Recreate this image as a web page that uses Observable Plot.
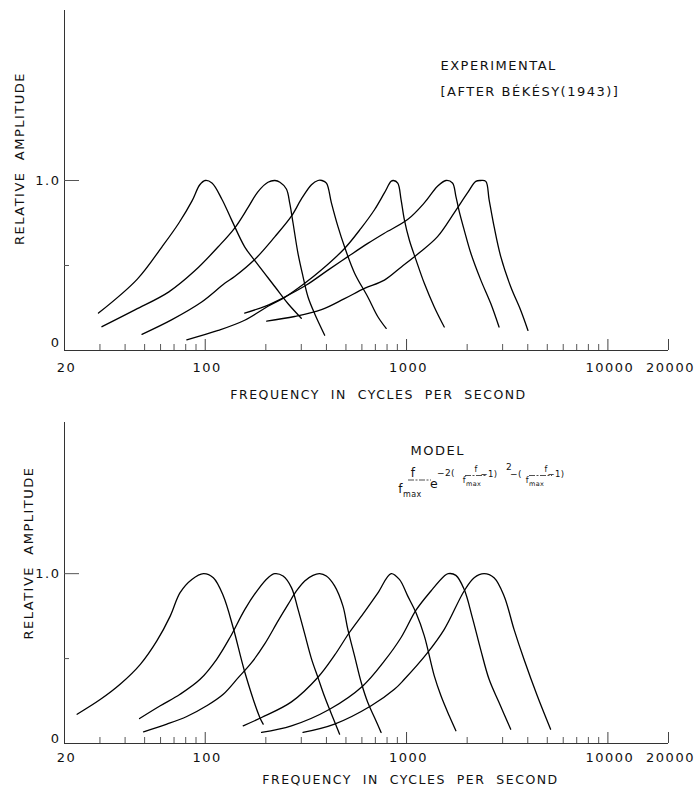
<!DOCTYPE html>
<html><head><meta charset="utf-8">
<script src="https://cdn.jsdelivr.net/npm/d3@7"></script>
<script src="https://cdn.jsdelivr.net/npm/@observablehq/plot@0.6"></script>
<style>
body{margin:0;background:#fff;}
#chart{width:695px;}
#chart svg{display:block;}
</style></head><body><div id="chart"></div>
<script>
// ---- Experimental curves [frequency Hz, relative amplitude] ----
const exp100 = [[29.5,0.22],[46,0.42],[61,0.61],[74,0.75],[86,0.88],[94,0.975],[100,1.0],[108,0.985],[121,0.89],[135,0.77],[157,0.61],[176,0.53],[222,0.375],[258,0.275],[300,0.19]];
const exp225 = [[30.7,0.14],[45,0.24],[66,0.345],[89,0.47],[116,0.61],[140,0.72],[163,0.84],[183,0.935],[205,0.99],[222,1.0],[235,0.99],[253,0.95],[263,0.865],[273,0.75],[289,0.57],[306,0.435],[324,0.315],[350,0.215],[392,0.09]];
const exp375 = [[48.5,0.095],[68,0.18],[96,0.285],[125,0.395],[140,0.435],[176,0.535],[222,0.67],[268,0.79],[300,0.89],[337,0.975],[363,1.0],[380,1.0],[400,0.985],[423,0.87],[456,0.73],[492,0.61],[552,0.455],[642,0.315],[719,0.2],[792,0.13]];
const exp850 = [[81,0.063],[116,0.118],[157,0.178],[205,0.26],[248,0.312],[312,0.395],[377,0.473],[492,0.6],[595,0.72],[693,0.828],[776,0.927],[838,0.995],[860,1.0],[904,0.985],[939,0.888],[975,0.77],[1032,0.65],[1114,0.533],[1225,0.395],[1373,0.256],[1539,0.138]];
const exp1600 = [[157,0.22],[198,0.26],[244,0.31],[318,0.385],[407,0.473],[511,0.552],[642,0.63],[776,0.69],[1012,0.77],[1225,0.868],[1425,0.966],[1569,1.0],[1691,0.985],[1758,0.907],[1826,0.818],[1932,0.71],[2086,0.572],[2338,0.414],[2620,0.276],[2880,0.138]];
const exp2400 = [[202,0.173],[278,0.2],[378,0.24],[492,0.305],[618,0.365],[776,0.414],[939,0.49],[1157,0.575],[1425,0.67],[1724,0.81],[2007,0.927],[2208,0.995],[2338,1.0],[2475,0.995],[2570,0.888],[2720,0.73],[2937,0.552],[3291,0.375],[3688,0.237],[4009,0.118]];

// ---- Model curves [frequency Hz, relative amplitude] ----
const mod100 = [[23.1,0.172],[30.2,0.26],[37.9,0.35],[47.6,0.466],[57.5,0.604],[67,0.75],[75,0.888],[85.8,0.966],[98,1.0],[109.7,0.976],[122.9,0.87],[137.8,0.68],[157.4,0.418],[186.7,0.153],[194,0.114]];
const mod220 = [[47.2,0.147],[59.8,0.222],[75,0.29],[94.3,0.378],[114,0.496],[132.7,0.624],[157.4,0.79],[183.2,0.908],[205.3,0.976],[221.6,1.0],[243.6,0.986],[268.1,0.918],[289.1,0.79],[312,0.645],[336.8,0.5],[363.1,0.388],[391.9,0.275],[423,0.175],[465,0.055]];
const mod370 = [[49.4,0.069],[64.5,0.114],[81,0.159],[101.7,0.222],[122.9,0.29],[145.9,0.388],[169.9,0.476],[197.8,0.588],[230.1,0.722],[257.9,0.819],[283.8,0.898],[312,0.957],[343,0.99],[370,1.0],[399.5,0.986],[439.1,0.928],[482.8,0.81],[510.9,0.672],[551.6,0.516],[595.5,0.359],[641.9,0.241],[693,0.153],[747.5,0.065]];
const mod840 = [[154.4,0.104],[190.5,0.153],[268.1,0.245],[363.1,0.39],[439.1,0.52],[521,0.655],[618.3,0.775],[719.3,0.885],[838,1.0],[921.3,0.966],[1012.6,0.869],[1114,0.77],[1225,0.634],[1373,0.398],[1482,0.281],[1629,0.163],[1758,0.075]];
const mod1600 = [[190.5,0.065],[268.1,0.104],[414.9,0.202],[606.5,0.339],[776.4,0.486],[939.2,0.624],[1114,0.785],[1322,0.898],[1539,0.986],[1610,1.0],[1758,0.99],[1932,0.908],[2124,0.74],[2338,0.55],[2570,0.378],[2880,0.241],[3291,0.084]];
const mod2430 = [[306,0.065],[439.1,0.114],[667.1,0.222],[870.2,0.319],[975.2,0.378],[1272,0.535],[1539,0.672],[1932,0.898],[2166,0.976],[2427,1.0],[2720,0.976],[3050,0.869],[3418,0.672],[3830,0.496],[4458,0.281],[5193,0.084]];

// ---- Axis ticks and labels ----
const minorTicks = [30,40,50,60,70,80,90,200,300,400,500,600,700,800,900,2000,3000,4000,5000,6000,7000,8000,9000];
const majorTicks = [100,1000,10000,20000];
const xTickLabels = [20,100,1000,10000,20000];
const yLabelOne = [1];
const yLabelZero = [0];
const yHalfTick = [0.5];

const xTitle = "FREQUENCY  IN  CYCLES  PER  SECOND";
const yTitle = "RELATIVE  AMPLITUDE";

function table(groups) {
  return groups.flatMap(([key, pts]) => pts.map(([f, a]) => ({key, f, a})));
}

const W = 695, ML = 64, MR = 27;
const innerW = W - ML - MR;
const FONT = "'DejaVu Sans', sans-serif";

function panel(opts) {
  const {data, height, marginTop, marginBottom, yMax, labelDy, zeroDy, yTitleDx, yTitleDy, xTitleDx, xTitleDy, notes} = opts;
  const innerH = height - marginTop - marginBottom;
  const T = {fill: "#111", lineAnchor: "middle"};
  return Plot.plot({
    width: W, height, marginLeft: ML, marginRight: MR, marginTop, marginBottom,
    style: {fontFamily: FONT, background: "#fff", color: "#111", letterSpacing: "1.5px"},
    x: {type: "log", domain: [20, 20000], axis: null},
    y: {domain: [0, yMax], axis: null},
    marks: [
      Plot.ruleX([20], {stroke: "#333", strokeWidth: 1}),
      Plot.ruleY([0], {stroke: "#333", strokeWidth: 1.2}),
      Plot.tickX(minorTicks, {x: d => d, insetTop: innerH - 6, stroke: "#444", strokeWidth: 0.9}),
      Plot.tickX(majorTicks, {x: d => d, insetTop: innerH - 11, stroke: "#444", strokeWidth: 1}),
      Plot.tickY(yLabelOne, {y: d => d, insetRight: innerW - 15, stroke: "#555"}),
      Plot.tickY(yHalfTick, {y: d => d, insetRight: innerW - 5, stroke: "#555"}),
      Plot.text(xTickLabels, {...T, x: d => d, frameAnchor: "bottom", dy: labelDy, dx: 2, text: d => String(d), fontSize: 13, letterSpacing: "1.8px"}),
      Plot.text(yLabelOne, {...T, y: d => d, frameAnchor: "left", dx: -4, textAnchor: "end", text: () => "1.0", fontSize: 13}),
      Plot.text(yLabelZero, {...T, y: d => d, frameAnchor: "left", dx: -4, dy: zeroDy, textAnchor: "end", text: () => "0", fontSize: 13}),
      Plot.text([yTitle], {...T, frameAnchor: "left", textAnchor: "middle", dx: yTitleDx, dy: yTitleDy, rotate: -90, text: d => d, fontSize: 13}),
      Plot.text([xTitle], {...T, frameAnchor: "bottom", textAnchor: "middle", dx: xTitleDx, dy: xTitleDy, text: d => d, fontSize: 12.5, letterSpacing: "1.8px"}),
      ...notes.map(n => Plot.text([n.text], {...T, frameAnchor: "top-left", dx: n.dx, dy: n.dy, textAnchor: "start", text: d => d, fontSize: 13, letterSpacing: "1.6px"})),
      Plot.line(data, {x: "f", y: "a", z: "key", curve: "catmull-rom", stroke: "#000", strokeWidth: 1.3})
    ]
  });
}

const topChart = panel({
  data: table([["100", exp100], ["225", exp225], ["375", exp375], ["850", exp850], ["1600", exp1600], ["2400", exp2400]]),
  height: 400, marginTop: 10, marginBottom: 50, yMax: 2,
  labelDy: 17, zeroDy: -8, yTitleDx: -45, yTitleDy: -22, xTitleDx: 12, xTitleDy: 44,
  notes: [{text: "EXPERIMENTAL", dx: 376, dy: 55}, {text: "[AFTER BÉKÉSY(1943)]", dx: 376, dy: 81}]
});

const bottomChart = panel({
  data: table([["100", mod100], ["220", mod220], ["370", mod370], ["840", mod840], ["1600", mod1600], ["2430", mod2430]]),
  height: 393, marginTop: 22, marginBottom: 50, yMax: 1.89,
  labelDy: 14, zeroDy: -5, yTitleDx: -36, yTitleDy: -30, xTitleDx: 44, xTitleDy: 36,
  notes: [{text: "MODEL", dx: 346, dy: 28}]
});

// formula annotation: f/f_max · e^{-2(f/f_max - 1)^2 - (f/f_max - 1)}
(function formula(svg) {
  const g = d3.select(svg).append("g")
    .attr("font-family", FONT).attr("fill", "#111")
    .attr("letter-spacing", "0.4px").attr("dominant-baseline", "central");
  const txt = (x, y, t, s, sub, subSize) => {
    const el = g.append("text").attr("x", x).attr("y", y).attr("font-size", s).text(t);
    if (sub) el.append("tspan").attr("font-size", subSize).attr("dy", s * 0.45).text(sub);
  };
  const bar = (x1, x2, y) => g.append("line")
    .attr("x1", x1).attr("x2", x2).attr("y1", y).attr("y2", y)
    .attr("stroke", "#222").attr("stroke-width", 0.8).attr("stroke-dasharray", "6,1.5,2,1.5");
  // main fraction f / f_max
  txt(413, 73, "f", 12);
  bar(408, 431, 80);
  txt(410, 89, "f", 12, "max", 8);
  // e
  txt(434, 83, "e", 12.5);
  // exponent
  txt(446, 73, "−2(", 9);
  txt(476, 69, "f", 8);
  bar(465, 487, 75.5);
  txt(472, 80, "f", 8, "max", 6.5);
  txt(489, 74, "−1)", 8.5);
  txt(509, 67, "2", 9);
  txt(516, 74, "−(", 9);
  txt(546, 69, "f", 8);
  bar(529, 552, 75.5);
  txt(535, 80, "f", 8, "max", 6.5);
  txt(556, 74, "−1)", 8.5);
})(bottomChart);

const root = document.getElementById("chart");
root.appendChild(topChart);
root.appendChild(bottomChart);
</script></body></html>
